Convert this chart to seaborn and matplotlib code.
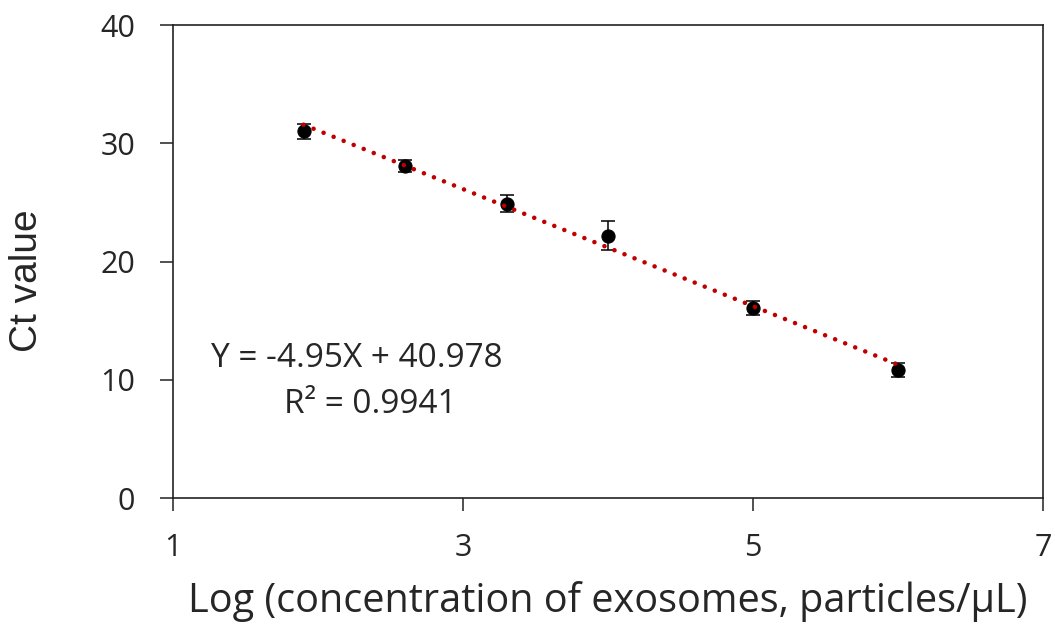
import matplotlib
matplotlib.use("Agg")
import matplotlib.pyplot as plt
import seaborn as sns
import pandas as pd

sns.set_style("ticks")

# data
log_conc = [1.9, 2.6, 3.3, 4.0, 5.0, 6.0]
ct_value = [31.0, 28.1, 24.9, 22.2, 16.1, 10.8]
ct_err = [0.6, 0.5, 0.7, 1.2, 0.6, 0.6]

slope, intercept = -4.95, 40.978
r2 = 0.9941

df = pd.DataFrame({"x": log_conc, "y": ct_value, "err": ct_err})
df["fit"] = slope * df["x"] + intercept

fig = plt.figure(figsize=(10.55, 6.35), dpi=100)
ax = fig.add_axes([0.164, 0.2157, 0.8246, 0.7449])

sns.lineplot(data=df, x="x", y="fit", ax=ax, color="#C00000",
             linestyle=(0, (0.01, 2.35)), linewidth=3.3,
             dash_capstyle="round", solid_capstyle="round", zorder=3)
ax.errorbar(df["x"], df["y"], yerr=df["err"], fmt="none", ecolor="black",
            elinewidth=1.1, capsize=4.7, capthick=1.1, zorder=2)
sns.scatterplot(data=df, x="x", y="y", ax=ax, color="black", s=90,
                edgecolor="black", zorder=2)

ax.set_xlim(1, 7)
ax.set_ylim(0, 40)
ax.set_xticks([1, 3, 5, 7])
ax.set_yticks([0, 10, 20, 30, 40])

for side in ["top", "right", "left", "bottom"]:
    ax.spines[side].set_visible(True)
    ax.spines[side].set_color("#222222")
    ax.spines[side].set_linewidth(1.2)

ax.tick_params(direction="out", length=9.4, width=1.1, color="#222222",
               labelsize=22)
ax.tick_params(axis="y", pad=18)
ax.tick_params(axis="x", pad=16)
for lab in ax.get_xticklabels() + ax.get_yticklabels():
    lab.set_family("Open Sans")

ax.set_xlabel("Log (concentration of exosomes, particles/\u03bcL)",
              fontsize=28.5, family="Open Sans")
ax.xaxis.set_label_coords(0.5, -0.175)
ax.set_ylabel("Ct value", fontsize=28, family="Liberation Sans")
ax.yaxis.set_label_coords(-0.147, 0.459)

ax.text(2.27, 11.08, "Y = -4.95X + 40.978", fontsize=24, family="Open Sans",
        ha="center", va="baseline")
ax.text(2.36, 7.19, "R\u00b2 = %.4f" % r2, fontsize=24, family="Open Sans",
        ha="center", va="baseline")

fig.savefig("out.png", dpi=100)
